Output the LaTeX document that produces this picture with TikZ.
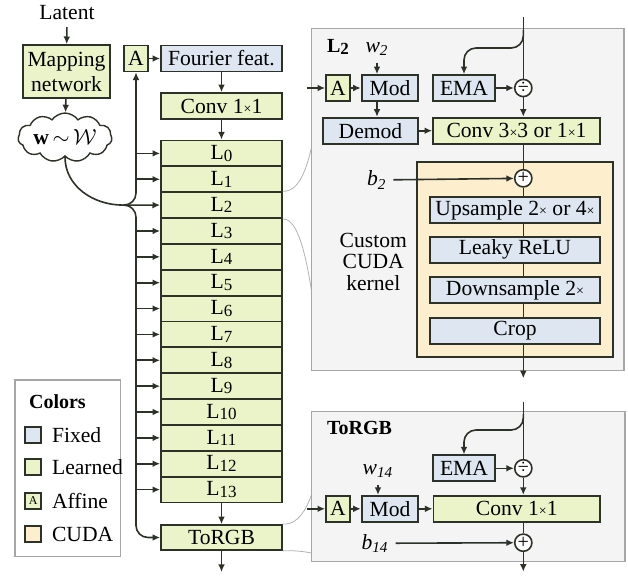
\documentclass[tikz,border=0pt]{standalone}
\usepackage{fontspec}
\setmainfont{Liberation Serif}
\usetikzlibrary{arrows.meta,shapes.symbols}
\definecolor{learnfill}{RGB}{234,244,200}
\definecolor{fixfill}{RGB}{222,231,241}
\definecolor{cudafill}{RGB}{253,238,206}
\definecolor{panelfill}{RGB}{244,244,244}
\definecolor{edge}{RGB}{45,50,40}
\newcommand{\timessign}{{\fontsize{7}{7}\selectfont ×}}
\newcommand{\lidx}[1]{\raisebox{-0.8pt}{\fontsize{8.5}{8}\selectfont #1}}

\begin{document}
\begin{tikzpicture}[x=0.5pt,y=-0.5pt,
  font=\fontsize{10.8}{12}\selectfont,
  box/.style={draw=edge,line width=0.9pt,inner sep=0pt,minimum height=13pt},
  learned/.style={box,fill=learnfill},
  fixed/.style={box,fill=fixfill},
  affine/.style={learned,minimum width=12pt},
  op/.style={circle,draw=edge,line width=0.8pt,fill=white,inner sep=0pt,minimum size=8.6pt,font=\fontsize{10}{10}\selectfont},
  arr/.style={-{Latex[length=3.8pt,width=3.4pt]},line width=0.8pt,draw=edge},
  wire/.style={line width=0.8pt,draw=edge},
  zoomline/.style={draw=black!30,line width=0.4pt},
  panel/.style={draw=black!35,fill=panelfill,line width=0.6pt}]

\useasboundingbox (0,0) rectangle (628,578);

% left column
\node (latent) at (67,13) {Latent};
\node[learned,minimum width=43.5pt,minimum height=26.5pt,align=center,font=\fontsize{10.8}{12.5}\selectfont] (map) at (66.5,71.5) {Mapping\\network};
\node[cloud,draw=edge,line width=0.7pt,cloud puffs=11,cloud puff arc=110,aspect=2.4,inner sep=0pt,minimum width=47pt,minimum height=20pt] (w) at (65,137.5) {\textbf{w}\,$\sim$\,$\mathcal{W}$};

\node[affine] (a0) at (136,58.5) {A};
\node[fixed,minimum width=60.5pt] (four) at (221.5,58.5) {Fourier feat.};
\node[learned,minimum width=60.5pt] (conv0) at (221.5,106) {Conv 1\timessign1};
\foreach \i in {0,...,13}
  \node[learned,minimum width=60.5pt,minimum height=12.93pt] (L\i) at (221.5,153.4+25.86*\i) {L\lidx{\i}};
\node[learned,minimum width=60.5pt,minimum height=12.5pt] (rgb) at (221.5,537.5) {ToRGB};
\coordinate (out) at (221.5,572);

\draw[arr] (latent) -- (map);
\draw[arr] (map) -- (w);
\draw[arr] (a0) -- (four);
\draw[arr] (four) -- (conv0);
\draw[arr] (conv0) -- (L0);
\draw[arr] (L13) -- (rgb);
\draw[arr] (rgb) -- (out);

% w broadcast
\coordinate (jn) at (123,205.1);
\coordinate (bus) at (136,0);
\draw[arr] (w.south) to[out=-90,in=180] (jn) -- (L2.west);
\draw[arr,rounded corners=6pt] (jn) -| (a0.south);
\draw[arr,rounded corners=6pt] (jn) -| (bus |- rgb) -- (rgb.west);
\foreach \i in {0,1,3,4,...,13}
  \draw[arr] (bus |- L\i.west) -- (L\i.west);

% zoom lines
\draw[zoomline] (L2.north east) .. controls (302,192.2) and (311,160) .. (318,110);
\draw[zoomline] (L2.south east) .. controls (302,218) and (311,280) .. (318,340);
\draw[zoomline] (rgb.north east) .. controls (300,525) and (311,505) .. (318,470);
\draw[zoomline] (rgb.south east) .. controls (300,550) and (310,553) .. (318,554);

% L2 panel
\node[panel,minimum width=156.15pt,minimum height=171.2pt] (pL2) at (467.85,199.5) {};
\node[font=\bfseries,anchor=west] (t2) at (320,46.7) {L\lidx{2}};
\node (w2) at (377,49) {\textit{w}\textsubscript{\textit{2}}};
\node[affine] (a2) at (338,88) {A};
\node[fixed,minimum width=28.3pt] (mod2) at (390,88) {Mod};
\node[fixed,minimum width=31pt] (ema2) at (464,88) {EMA};
\node[op] (div2) at (523.3,88) {÷};
\node[fixed,minimum width=47.5pt] (dem2) at (370.5,130.7) {Demod};
\node[learned,minimum width=83.5pt] (conv2) at (516.5,130.7) {Conv 3\timessign3 or 1\timessign1};
\node[draw=edge,fill=cudafill,line width=0.9pt,minimum width=97.7pt,minimum height=97.5pt] (cuda) at (515,259.2) {};
\node[op] (add2) at (523.3,178.3) {+};
\node (b2) at (376.7,180) {\textit{b}\textsubscript{\textit{2}}};
\node[fixed,minimum width=85pt] (up) at (515,210) {Upsample 2\timessign{} or 4\timessign};
\node[fixed,minimum width=85pt] (relu) at (515,249.7) {Leaky ReLU};
\node[fixed,minimum width=85pt] (down) at (515,290.3) {Downsample 2\timessign};
\node[fixed,minimum width=85pt] (crop) at (515,330.7) {Crop};
\node[align=center,font=\fontsize{10.8}{10.8}\selectfont] (kern) at (373.3,261.7) {Custom\\CUDA\\kernel};
\coordinate (in2) at (523.3,16.7);
\coordinate (br2) at (523.3,30);
\coordinate (out2) at (523.3,378.3);
\coordinate (feed2) at (306.7,88);

\draw[wire] (in2) -- (div2);
\draw[arr,rounded corners=6pt] (br2) -- ++(0,18) -| (ema2.north);
\draw[arr] (ema2) -- (div2);
\draw[arr] (div2) -- (div2 |- conv2.north);
\draw[arr] (feed2) -- (a2);
\draw[arr] (a2) -- (mod2);
\draw[arr] (w2) -- (w2 |- mod2.north);
\draw[arr] (w2 |- mod2.south) -- (w2 |- dem2.north);
\draw[arr] (dem2) -- (conv2);
\draw[wire] (div2 |- conv2.south) -- (add2);
\draw[arr] (b2) -- (add2);
\draw[wire] (add2) -- (add2 |- up.north);
\draw[wire] (add2 |- up.south) -- (add2 |- relu.north);
\draw[wire] (add2 |- relu.south) -- (add2 |- down.north);
\draw[wire] (add2 |- down.south) -- (add2 |- crop.north);
\draw[arr] (add2 |- crop.south) -- (out2);

% ToRGB panel
\node[panel,minimum width=156.65pt,minimum height=75pt] (pRGB) at (468.35,486.7) {};
\node[font=\bfseries,anchor=west] (t3) at (320,428.3) {ToRGB};
\node[fixed,minimum width=31pt] (ema3) at (464,468.3) {EMA};
\node[op] (div3) at (523.3,468.3) {÷};
\node (w14) at (378,471) {\textit{w}\textsubscript{\textit{14}}};
\node[affine] (a3) at (338,508.8) {A};
\node[fixed,minimum width=28.3pt] (mod3) at (390,508.8) {Mod};
\node[learned,minimum width=83.3pt] (conv3) at (516.7,508.8) {Conv 1\timessign1};
\node[op] (add3) at (523.3,542.7) {+};
\node (b14) at (375,543.3) {\textit{b}\textsubscript{\textit{14}}};
\coordinate (in3) at (523.3,401.7);
\coordinate (br3) at (523.3,414);
\coordinate (out3) at (523.3,571.7);
\coordinate (feed3) at (306.7,508.8);

\draw[wire] (in3) -- (div3);
\draw[arr,rounded corners=6pt] (br3) -- ++(0,16) -| (ema3.north);
\draw[arr] (ema3) -- (div3);
\draw[arr] (div3) -- (div3 |- conv3.north);
\draw[arr] (feed3) -- (a3);
\draw[arr] (a3) -- (mod3);
\draw[arr] (w14) -- (w14 |- mod3.north);
\draw[arr] (mod3) -- (conv3);
\draw[wire] (div3 |- conv3.south) -- (add3);
\draw[arr] (b14) -- (add3);
\draw[arr] (add3) -- (out3);

% legend
\node[draw=black!35,fill=white,line width=0.6pt,minimum width=52.85pt,minimum height=88.35pt] (leg) at (67.85,468.35) {};
\node[font=\bfseries,anchor=west] (legt) at (22,401.7) {Colors};
\node[fixed,minimum size=8pt] (kfix) at (33.3,434.7) {};
\node[anchor=west] (lfix) at (45,434.7) {Fixed};
\node[learned,minimum size=8pt] (klrn) at (33.3,467.3) {};
\node[anchor=west] (llrn) at (45,467.3) {Learned};
\node[learned,minimum size=8pt,font=\fontsize{6}{6}\selectfont] (kaff) at (33.3,500.7) {A};
\node[anchor=west] (laff) at (45,500.7) {Affine};
\node[box,fill=cudafill,minimum size=8pt] (kcud) at (33.3,534) {};
\node[anchor=west] (lcud) at (45,534) {CUDA};

\end{tikzpicture}
\end{document}
